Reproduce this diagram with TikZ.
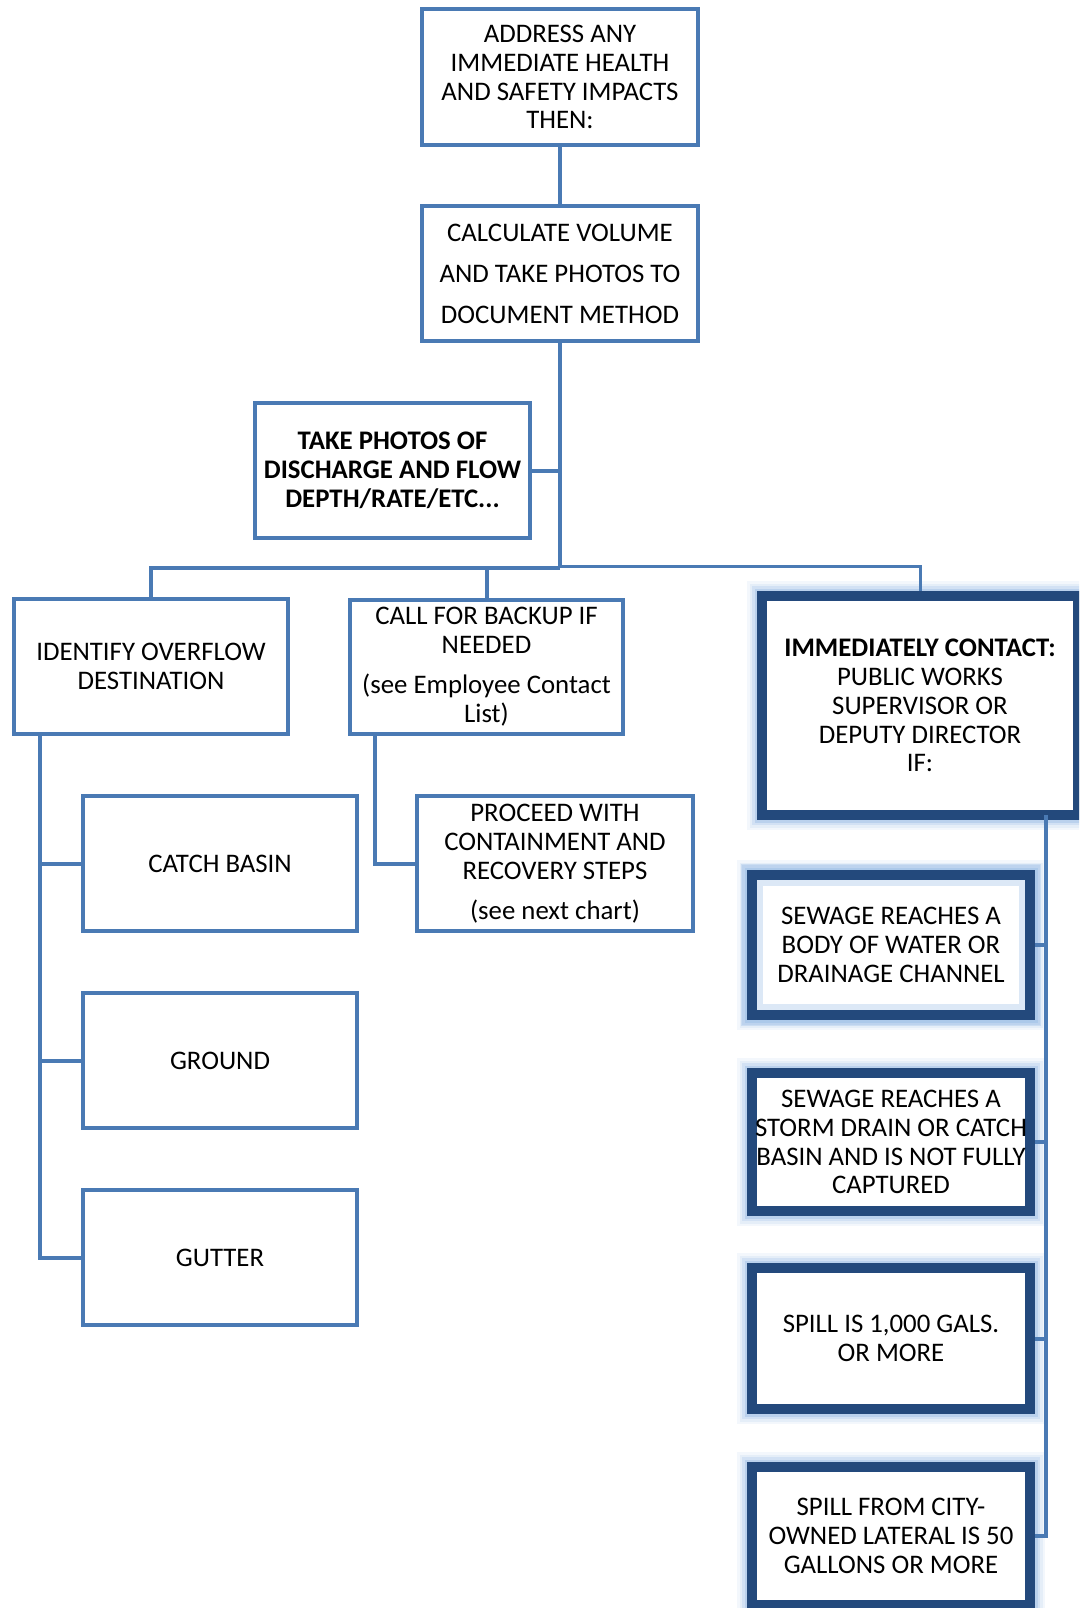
\documentclass[tikz,border=0pt]{standalone}
\usepackage{fontspec}
\setmainfont{Carlito}
\usetikzlibrary{calc}
\definecolor{lblue}{RGB}{74,122,180}
\definecolor{dblue}{RGB}{35,73,124}
\definecolor{glowc}{RGB}{141,180,226}
\begin{document}
\begin{tikzpicture}[x=1pt,y=-1pt,
  txt/.style={font=\fontsize{26.8}{28.9}\selectfont},
  lbox/.style={draw=lblue, line width=4pt, fill=white, inner sep=0pt, align=center, txt},
  dbox/.style={draw=dblue, line width=10pt, fill=white, inner sep=0pt, align=center, txt,
     preaction={draw=glowc, line width=30pt, draw opacity=0.10, rounded corners=6pt},
     preaction={draw=glowc, line width=25pt, draw opacity=0.14, rounded corners=4pt},
     preaction={draw=glowc, line width=20pt, draw opacity=0.22, rounded corners=3pt},
     preaction={draw=glowc, line width=15pt, draw opacity=0.35}},
  inglow/.style={postaction={draw=glowc, line width=22pt, draw opacity=0.30},
     postaction={draw=dblue, line width=10pt}},
  conn/.style={draw=lblue, line width=4pt},
  thinconn/.style={draw=lblue, line width=3pt},
]
\useasboundingbox (0,0) rectangle (1079,1608);
\clip (0,0) rectangle (1079,1608);

% left/middle boxes
\node[lbox, minimum width=276pt, minimum height=136pt] (A) at (560,77)
  {ADDRESS ANY\\IMMEDIATE HEALTH\\AND SAFETY IMPACTS\\THEN:};
\node[lbox, minimum width=276pt, minimum height=135pt, font=\fontsize{26.8}{41}\selectfont] (B) at (560,273.5)
  {CALCULATE VOLUME\\AND TAKE PHOTOS TO\\DOCUMENT METHOD};
\node[lbox, minimum width=275pt, minimum height=135pt, font=\fontsize{26.8}{28.9}\selectfont\bfseries] (C) at (392.5,470.5)
  {TAKE PHOTOS OF\\DISCHARGE AND FLOW\\DEPTH/RATE/ETC...};
\node[lbox, minimum width=274pt, minimum height=135pt] (D) at (151,666.5)
  {IDENTIFY OVERFLOW\\DESTINATION};
\node[lbox, minimum width=273pt, minimum height=134pt] (E) at (486.5,667)
  {CALL FOR BACKUP IF\\NEEDED\\[11pt](see Employee Contact\\List)};
\node[lbox, minimum width=276pt, minimum height=135pt] (P) at (555,863.5)
  {PROCEED WITH\\CONTAINMENT AND\\RECOVERY STEPS\\[11pt](see next chart)};
\node[lbox, minimum width=274pt, minimum height=135pt] (cb) at (220,863.5) {CATCH BASIN};
\node[lbox, minimum width=274pt, minimum height=135pt] (gr) at (220,1060.5) {GROUND};
\node[lbox, minimum width=274pt, minimum height=135pt] (gu) at (220,1257.5) {GUTTER};

% right column
\node[dbox, minimum width=316pt, minimum height=219pt] (F) at (920,705.5)
  {\textbf{IMMEDIATELY CONTACT:}\\PUBLIC WORKS\\SUPERVISOR OR\\DEPUTY DIRECTOR\\IF:};
\node[dbox, inglow, minimum width=278pt, minimum height=140pt] (G) at (891,945)
  {SEWAGE REACHES A\\BODY OF WATER OR\\DRAINAGE CHANNEL};
\node[dbox, minimum width=278pt, minimum height=138pt] (H) at (891,1142)
  {SEWAGE REACHES A\\STORM DRAIN OR CATCH\\BASIN AND IS NOT FULLY\\CAPTURED};
\node[dbox, minimum width=278pt, minimum height=141pt] (I) at (891,1338.5)
  {SPILL IS 1,000 GALS.\\OR MORE};
\node[dbox, minimum width=278pt, minimum height=138pt] (J) at (891,1536)
  {SPILL FROM CITY-\\OWNED LATERAL IS 50\\GALLONS OR MORE};

% junction coordinates
\coordinate (bus) at (560,568);
\coordinate (busR) at (560,566);
\coordinate (dl) at ($(D.south west)!0.1025!(D.south east)$);
\coordinate (el) at ($(E.south west)!0.0975!(E.south east)$);
\coordinate (fr) at (1046,815);

% connectors
\draw[conn] (A.south) -- (B.north);
\draw[conn] (B.south) -- (bus);
\draw[conn] (C.east) -- (C.east -| B.south);
\draw[conn] (D.north) |- (bus);
\draw[conn] (E.north) -- (E.north |- bus);
\draw[thinconn] (busR) -| (F.north);
\draw[conn] (el) |- (P.west);
\draw[conn] (dl) |- (gu.west);
\draw[conn] (cb.west) -- (cb.west -| dl);
\draw[conn] (gr.west) -- (gr.west -| dl);
\draw[conn] (fr) |- (J.east);
\draw[conn] (G.east) -- (G.east -| fr);
\draw[conn] (H.east) -- (H.east -| fr);
\draw[conn] (I.east) -- (I.east -| fr);
\end{tikzpicture}
\end{document}
